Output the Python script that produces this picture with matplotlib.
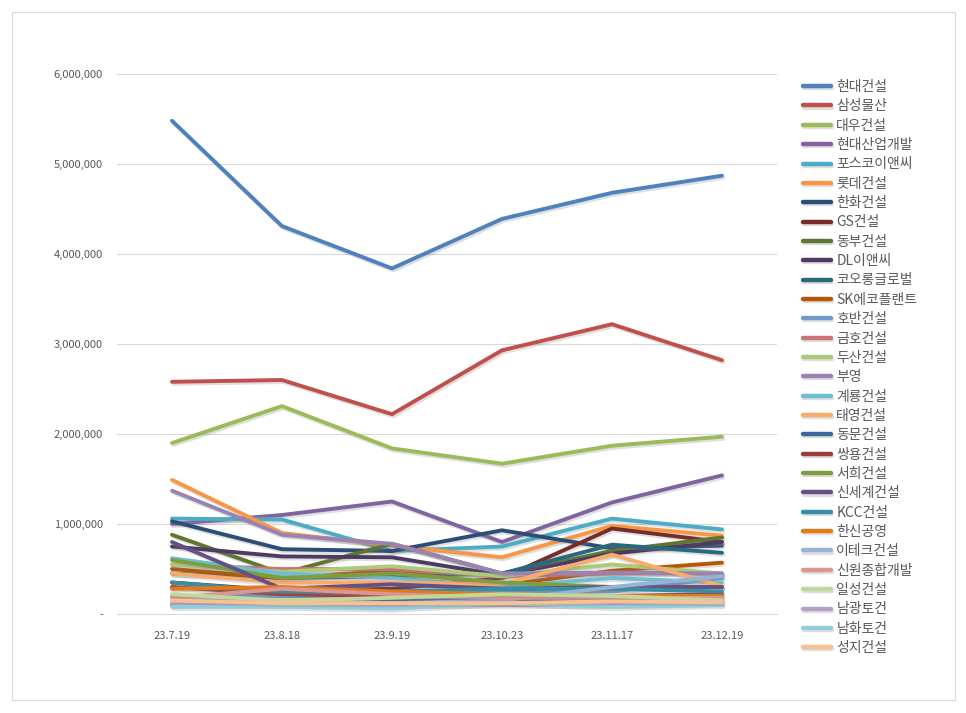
import matplotlib
matplotlib.use("Agg")
import matplotlib.pyplot as plt
import matplotlib.patheffects as pe
from matplotlib.patches import Rectangle
from matplotlib.ticker import FuncFormatter, MultipleLocator

plt.rcParams['font.family'] = ['Noto Sans CJK KR', 'DejaVu Sans']

dates = ['23.7.19', '23.8.18', '23.9.19', '23.10.23', '23.11.17', '23.12.19']

names = ['현대건설', '삼성물산', '대우건설', '현대산업개발', '포스코이앤씨', '롯데건설',
         '한화건설', 'GS건설', '동부건설', 'DL이앤씨', '코오롱글로벌', 'SK에코플랜트',
         '호반건설', '금호건설', '두산건설', '부영', '계룡건설', '태영건설',
         '동문건설', '쌍용건설', '서희건설', '신세계건설', 'KCC건설', '한신공영',
         '이테크건설', '신원종합개발', '일성건설', '남광토건', '남화토건', '성지건설']

values = [
    [5480000, 4310000, 3840000, 4390000, 4680000, 4870000],
    [2580000, 2600000, 2220000, 2930000, 3220000, 2820000],
    [1900000, 2310000, 1840000, 1670000, 1870000, 1970000],
    [1000000, 1100000, 1250000, 800000, 1240000, 1540000],
    [1060000, 1050000, 700000, 750000, 1060000, 940000],
    [1490000, 900000, 760000, 630000, 980000, 870000],
    [1030000, 720000, 700000, 930000, 730000, 760000],
    [350000, 260000, 280000, 400000, 950000, 800000],
    [880000, 450000, 780000, 450000, 700000, 850000],
    [750000, 640000, 630000, 430000, 670000, 800000],
    [450000, 400000, 420000, 450000, 770000, 680000],
    [500000, 400000, 480000, 320000, 480000, 570000],
    [200000, 200000, 180000, 250000, 250000, 400000],
    [550000, 500000, 500000, 420000, 450000, 450000],
    [550000, 470000, 530000, 420000, 550000, 450000],
    [1370000, 880000, 780000, 450000, 460000, 450000],
    [620000, 450000, 400000, 300000, 400000, 350000],
    [450000, 350000, 350000, 330000, 660000, 310000],
    [100000, 120000, 150000, 150000, 150000, 150000],
    [300000, 220000, 200000, 200000, 200000, 220000],
    [600000, 400000, 450000, 350000, 300000, 300000],
    [800000, 280000, 330000, 280000, 300000, 300000],
    [350000, 250000, 250000, 280000, 280000, 250000],
    [280000, 300000, 250000, 220000, 200000, 200000],
    [150000, 150000, 120000, 150000, 300000, 420000],
    [180000, 280000, 220000, 180000, 180000, 180000],
    [220000, 150000, 180000, 220000, 200000, 150000],
    [120000, 100000, 100000, 100000, 100000, 120000],
    [80000, 80000, 60000, 120000, 80000, 100000],
    [150000, 120000, 120000, 120000, 140000, 130000],
]

colors = ['#4F81BD', '#C0504D', '#9BBB59', '#8064A2', '#4BACC6', '#F79646',
          '#2C4D75', '#772C2A', '#5F7530', '#4D3B62', '#276A7C', '#B65708',
          '#729ACA', '#CD7371', '#AFC97A', '#9983B5', '#6FBDD1', '#F9AB6B',
          '#3A679C', '#9F3B38', '#7E9D40', '#664F83', '#358EA6', '#E07A1A',
          '#95B3D7', '#D99694', '#C3D69B', '#B3A2C7', '#93CDDD', '#FAC090']

fig = plt.figure(figsize=(9.66, 7.13), dpi=100)
ax = fig.add_axes([117 / 966, 1 - 614 / 713, 660 / 966, 540 / 713])

x = list(range(len(dates)))
shadow = [pe.SimpleLineShadow(offset=(1, -1.5), alpha=0.25, shadow_color='gray'), pe.Normal()]
for name, vals, c in zip(names, values, colors):
    ax.plot(x, vals, color=c, lw=2.8, label=name, solid_capstyle='round',
            solid_joinstyle='round', path_effects=shadow)

ax.set_xlim(-0.5, len(dates) - 0.5)
ax.set_ylim(0, 6000000)
ax.yaxis.set_major_locator(MultipleLocator(1000000))
ax.yaxis.set_major_formatter(FuncFormatter(lambda v, p: '-' if v == 0 else f'{v:,.0f}'))
ax.set_xticks(x)
ax.set_xticklabels(dates)
ax.grid(axis='y', color='#D9D9D9', lw=0.8)
ax.set_axisbelow(True)
for s in ['top', 'right', 'left']:
    ax.spines[s].set_visible(False)
ax.spines['bottom'].set_color('#D9D9D9')
ax.tick_params(axis='both', length=0, labelsize=8, labelcolor='#595959')
ax.tick_params(axis='y', pad=10)
ax.tick_params(axis='x', pad=12)

leg = fig.legend(loc='upper left', bbox_to_anchor=(803 / 966, 1 - 80 / 713),
                 frameon=False, fontsize=10, labelcolor='#595959',
                 handlelength=2.0, handletextpad=0.4, labelspacing=0.385,
                 borderaxespad=0, borderpad=0)
for h in leg.legend_handles:
    h.set_linewidth(3.2)

fig.patches.append(Rectangle((12 / 966, 13 / 713), 943 / 966, 688 / 713,
                             transform=fig.transFigure, fill=False,
                             edgecolor='#D9D9D9', lw=0.8))

fig.savefig('out.png', dpi=100)
